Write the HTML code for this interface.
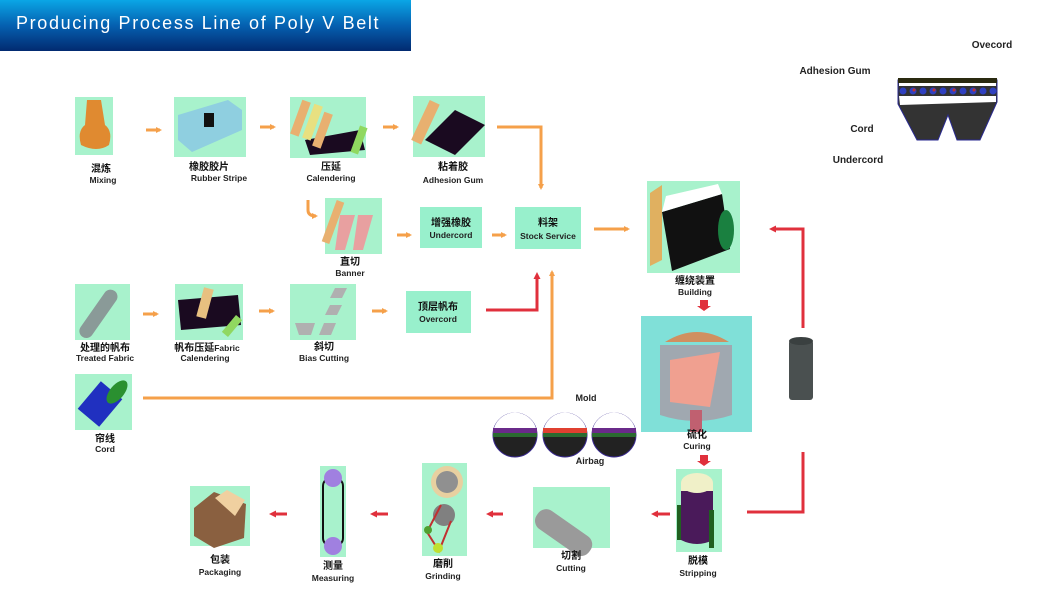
<!DOCTYPE html>
<html><head><meta charset="utf-8"><style>
html,body{margin:0;padding:0;background:#fff;}
svg{display:block;font-family:"Liberation Sans","Noto Sans CJK SC",sans-serif;}
.c{font-size:10px;font-weight:bold;fill:#111;text-anchor:middle;}
.e{font-size:8.5px;fill:#222;text-anchor:middle;font-weight:bold;}
.g{fill:#a8f2cc;}
.o{stroke:#f5a04a;stroke-width:3;fill:none;}
.r{stroke:#e0303c;stroke-width:3;fill:none;}
</style></head><body>
<svg width="1060" height="596" viewBox="0 0 1060 596" xmlns="http://www.w3.org/2000/svg">
<defs>
<linearGradient id="tb" x1="0" y1="0" x2="0" y2="1"><stop offset="0" stop-color="#0aa6e6"/><stop offset="0.5" stop-color="#0560b0"/><stop offset="1" stop-color="#022a70"/></linearGradient>
<marker id="ao" markerWidth="6" markerHeight="6" refX="4" refY="3" orient="auto" markerUnits="userSpaceOnUse"><path d="M0,0 L6,3 L0,6z" fill="#f5a04a"/></marker>
<marker id="ar" markerWidth="7" markerHeight="7" refX="4" refY="3.5" orient="auto" markerUnits="userSpaceOnUse"><path d="M0,0 L7,3.5 L0,7z" fill="#e0303c"/></marker>
</defs>
<rect x="0" y="0" width="411" height="51" fill="url(#tb)"/>
<text x="16" y="29" fill="#fff" font-size="18" letter-spacing="1.65">Producing Process Line of Poly V Belt</text>

<!-- Row 1 -->
<rect class="g" x="75" y="97" width="38" height="58"/>
<path d="M87,100 h14 l4,25 q8,6 4,20 q-12,8 -28,0 q-4,-14 4,-20z" fill="#e08a30"/>
<text class="c" x="101" y="172">混炼</text><text class="e" x="103" y="183">Mixing</text>
<line class="o" x1="146" y1="130" x2="160" y2="130" marker-end="url(#ao)"/>

<rect class="g" x="174" y="97" width="72" height="60"/>
<path d="M178,115 l50,-15 l14,10 v20 l-50,22 l-14,-12z" fill="#8fcfe0"/>
<rect x="204" y="113" width="10" height="14" fill="#111"/>
<text class="c" x="209" y="170">橡胶胶片</text><text class="e" x="219" y="181">Rubber Stripe</text>
<line class="o" x1="260" y1="127" x2="274" y2="127" marker-end="url(#ao)"/>

<rect class="g" x="290" y="97" width="76" height="61"/>
<path d="M305,140 l55,-10 l5,20 l-55,5z" fill="#1a0a20"/>
<rect x="296" y="100" width="9" height="36" fill="#e8b070" transform="rotate(20 300 118)"/>
<rect x="308" y="104" width="9" height="36" fill="#e8e080" transform="rotate(20 312 122)"/>
<rect x="318" y="112" width="9" height="36" fill="#e8b070" transform="rotate(20 322 130)"/>
<rect x="355" y="126" width="8" height="28" fill="#90d860" transform="rotate(20 359 140)"/>
<text class="c" x="331" y="170">压延</text><text class="e" x="331" y="181">Calendering</text>
<line class="o" x1="383" y1="127" x2="397" y2="127" marker-end="url(#ao)"/>

<rect class="g" x="413" y="96" width="72" height="61"/>
<path d="M425,140 l30,-30 l30,15 l-30,30z" fill="#1a0a20"/>
<rect x="420" y="100" width="11" height="44" fill="#e8b070" transform="rotate(25 425 122)"/>
<text class="c" x="453" y="170">粘着胶</text><text class="e" x="453" y="183">Adhesion Gum</text>
<polyline class="o" points="497,127 541,127 541,188" marker-end="url(#ao)"/>

<!-- Row 2 -->
<path d="M308,200 v10 q0,6 8,6" class="o" marker-end="url(#ao)"/>
<rect class="g" x="325" y="198" width="57" height="56"/>
<path d="M340,215 l15,0 l-10,35 l-10,0z M358,215 l15,0 l-10,35 l-10,0z" fill="#e8a0a0"/>
<rect x="329" y="200" width="8" height="44" fill="#e8b070" transform="rotate(20 333 222)"/>
<text class="c" x="350" y="265">直切</text><text class="e" x="350" y="276">Banner</text>
<line class="o" x1="397" y1="235" x2="410" y2="235" marker-end="url(#ao)"/>
<rect x="420" y="207" width="62" height="41" fill="#98f0cc"/>
<text class="c" x="451" y="226">增强橡胶</text><text class="e" x="451" y="238">Undercord</text>
<line class="o" x1="492" y1="235" x2="505" y2="235" marker-end="url(#ao)"/>
<rect x="515" y="207" width="66" height="42" fill="#98f0cc"/>
<text class="c" x="548" y="226">料架</text><text class="e" x="548" y="239">Stock Service</text>
<line class="o" x1="594" y1="229" x2="628" y2="229" marker-end="url(#ao)"/>

<!-- Building -->
<rect class="g" x="647" y="181" width="93" height="92"/>
<path d="M650,193 l12,-8 v75 l-12,6z" fill="#e0b060"/>
<path d="M662,212 l60,-18 l8,55 l-58,22z" fill="#111"/>
<path d="M662,212 l60,-18 l-4,-10 l-52,12z" fill="#fff"/>
<ellipse cx="726" cy="230" rx="8" ry="20" fill="#1a8040"/>
<text class="c" x="695" y="284">缠绕装置</text><text class="e" x="695" y="295">Building</text>
<path d="M700,300 h8 v6 h3 l-7,5 l-7,-5 h3z" fill="#e0303c"/>

<!-- Curing -->
<rect x="641" y="316" width="111" height="116" fill="#80e0d8"/>
<path d="M665,342 q32,-20 64,0 z" fill="#d09060"/>
<path d="M660,345 h72 v70 q-36,12 -72,0z" fill="#a0a8b0"/>
<path d="M670,360 l50,-8 l-10,55 l-40,-5z" fill="#f0a090"/>
<rect x="690" y="410" width="12" height="22" fill="#c06070"/>
<text class="c" x="697" y="438">硫化</text><text class="e" x="697" y="449">Curing</text>
<path d="M700,455 h8 v6 h3 l-7,5 l-7,-5 h3z" fill="#e0303c"/>

<!-- Stripping -->
<rect class="g" x="676" y="469" width="46" height="83"/>
<path d="M681,490 h32 v50 q-16,8 -32,0z" fill="#4a1a5a"/>
<ellipse cx="697" cy="483" rx="16" ry="10" fill="#f0f0c8"/>
<rect x="681" y="483" width="32" height="8" fill="#f0f0c8"/>
<rect x="677" y="505" width="4" height="35" fill="#206020"/>
<rect x="709" y="510" width="5" height="38" fill="#206020"/>
<text class="c" x="698" y="564">脱模</text><text class="e" x="698" y="576">Stripping</text>

<!-- Cylinder -->
<rect x="789" y="340" width="24" height="60" rx="3" fill="#4a5050"/>
<ellipse cx="801" cy="341" rx="12" ry="4" fill="#3a4040"/>
<polyline class="r" points="747,512 803,512 803,452"/>
<polyline class="r" points="803,328 803,229 772,229" marker-end="url(#ar)"/>
<line class="r" x1="670" y1="514" x2="654" y2="514" marker-end="url(#ar)"/>

<!-- Row 3 -->
<rect class="g" x="75" y="284" width="55" height="56"/>
<rect x="92" y="286" width="14" height="56" rx="7" fill="#8a9a98" transform="rotate(35 99 313)"/>
<text class="c" x="105" y="351">处理的帆布</text><text class="e" x="105" y="361">Treated Fabric</text>
<line class="o" x1="143" y1="314" x2="157" y2="314" marker-end="url(#ao)"/>
<rect class="g" x="175" y="284" width="68" height="56"/>
<path d="M178,300 l60,-5 l3,30 l-60,5z" fill="#1a0a20"/>
<rect x="200" y="288" width="10" height="30" fill="#e8c080" transform="rotate(15 205 303)"/>
<rect x="228" y="315" width="8" height="22" fill="#90d860" transform="rotate(40 232 326)"/>
<text x="207" y="351" font-size="10" font-weight="bold" fill="#111" text-anchor="middle">帆布压延<tspan font-size="8.5" fill="#222">Fabric</tspan></text>
<text class="e" x="205" y="361">Calendering</text>
<line class="o" x1="259" y1="311" x2="273" y2="311" marker-end="url(#ao)"/>
<rect class="g" x="290" y="284" width="66" height="56"/>
<path d="M335,288 h12 l-5,10 h-12z M330,305 h12 l-5,10 h-12z M324,323 h12 l-5,12 h-12z M295,323 h20 l-4,12 h-12z" fill="#b0b0b0"/>
<text class="c" x="324" y="350">斜切</text><text class="e" x="324" y="361">Bias Cutting</text>
<line class="o" x1="372" y1="311" x2="386" y2="311" marker-end="url(#ao)"/>
<rect x="406" y="291" width="65" height="42" fill="#98f0cc"/>
<text class="c" x="438" y="310">顶层帆布</text><text class="e" x="438" y="322">Overcord</text>
<polyline class="r" points="486,310 537,310 537,275" marker-end="url(#ar)"/>
<polyline class="o" points="143,398 552,398 552,272" marker-end="url(#ao)"/>

<rect class="g" x="75" y="374" width="57" height="56"/>
<rect x="86" y="386" width="28" height="36" fill="#2030c0" transform="rotate(40 100 404)"/>
<ellipse cx="117" cy="392" rx="7" ry="14" fill="#2a9030" transform="rotate(40 117 392)"/>
<text class="c" x="105" y="442">帘线</text><text class="e" x="105" y="452">Cord</text>

<!-- Mold -->
<text x="586" y="401" font-size="9" font-weight="bold" fill="#222" text-anchor="middle">Mold</text>
<g>
<circle cx="515" cy="435" r="22" fill="#222" stroke="#3a2a90" stroke-width="1"/>
<path d="M494,428 a22,22 0 0 1 42,0z" fill="#fff"/><rect x="493" y="428" width="44" height="5" fill="#6a2a8a"/><rect x="493" y="433" width="44" height="4" fill="#2a6a30"/>
<circle cx="565" cy="435" r="22" fill="#222" stroke="#3a2a90" stroke-width="1"/>
<path d="M544,428 a22,22 0 0 1 42,0z" fill="#fff"/><rect x="543" y="428" width="44" height="5" fill="#e04030"/><rect x="543" y="433" width="44" height="4" fill="#2a6a30"/>
<circle cx="614" cy="435" r="22" fill="#222" stroke="#3a2a90" stroke-width="1"/>
<path d="M593,428 a22,22 0 0 1 42,0z" fill="#fff"/><rect x="592" y="428" width="44" height="5" fill="#6a2a8a"/><rect x="592" y="433" width="44" height="4" fill="#2a6a30"/>
</g>
<text x="590" y="464" font-size="9" font-weight="bold" fill="#222" text-anchor="middle">Airbag</text>

<!-- Bottom row -->
<rect class="g" x="533" y="487" width="77" height="61"/>
<rect x="545" y="490" width="22" height="64" rx="10" fill="#9a9a9a" transform="rotate(-55 570 520)"/>
<text class="c" x="571" y="559">切割</text><text class="e" x="571" y="571">Cutting</text>
<line class="r" x1="503" y1="514" x2="489" y2="514" marker-end="url(#ar)"/>
<rect class="g" x="422" y="463" width="45" height="93"/>
<circle cx="447" cy="482" r="16" fill="#e8d0a0"/><circle cx="447" cy="482" r="11" fill="#909090"/>
<circle cx="444" cy="515" r="11" fill="#808080"/>
<path d="M441,505 l-14,27 l12,19 l12,-30" stroke="#c03030" stroke-width="2" fill="none"/>
<circle cx="438" cy="548" r="5" fill="#c0e030"/><circle cx="428" cy="530" r="4" fill="#50a030"/>
<text class="c" x="443" y="567">磨削</text><text class="e" x="443" y="579">Grinding</text>
<line class="r" x1="388" y1="514" x2="373" y2="514" marker-end="url(#ar)"/>
<rect class="g" x="320" y="466" width="26" height="91"/>
<rect x="323" y="478" width="20" height="68" rx="8" fill="none" stroke="#111" stroke-width="2"/>
<circle cx="333" cy="478" r="9" fill="#a080e0"/><circle cx="333" cy="546" r="9" fill="#a080e0"/>
<text class="c" x="333" y="569">测量</text><text class="e" x="333" y="581">Measuring</text>
<line class="r" x1="287" y1="514" x2="272" y2="514" marker-end="url(#ar)"/>
<rect class="g" x="190" y="486" width="60" height="60"/>
<path d="M194,508 l20,-16 l32,12 l-2,34 l-30,10 l-20,-12z" fill="#8a6040"/>
<path d="M215,498 l12,-8 l18,10 l-10,16z" fill="#f0d0a0"/>
<text class="c" x="220" y="563">包装</text><text class="e" x="220" y="575">Packaging</text>

<!-- Belt cross-section -->
<text x="992" y="48" font-size="10" font-weight="bold" fill="#222" text-anchor="middle">Ovecord</text>
<text x="835" y="74" font-size="10" font-weight="bold" fill="#222" text-anchor="middle">Adhesion Gum</text>
<text x="862" y="132" font-size="10" font-weight="bold" fill="#222" text-anchor="middle">Cord</text>
<text x="858" y="163" font-size="10" font-weight="bold" fill="#222" text-anchor="middle">Undercord</text>
<path d="M898,80 h99 v22 l-17,38 h-23 l-9,-25 l-10,25 h-21 l-19,-36z" fill="#333" stroke="#2a2a90" stroke-width="1"/>
<rect x="898" y="78" width="99" height="5" fill="#2a2a10"/>
<rect x="899" y="83" width="97" height="3" fill="#fff"/>
<path d="M899,96 h97 v6 l-96,3z" fill="#fff"/>
<g fill="#3040c0"><circle cx="903" cy="91" r="3.5"/><circle cx="913" cy="91" r="3.5"/><circle cx="923" cy="91" r="3.5"/><circle cx="933" cy="91" r="3.5"/><circle cx="943" cy="91" r="3.5"/><circle cx="953" cy="91" r="3.5"/><circle cx="963" cy="91" r="3.5"/><circle cx="973" cy="91" r="3.5"/><circle cx="983" cy="91" r="3.5"/><circle cx="993" cy="91" r="3.5"/></g>
<g fill="#c03030"><circle cx="914" cy="90" r="1.5"/><circle cx="934" cy="90" r="1.5"/><circle cx="954" cy="90" r="1.5"/><circle cx="974" cy="90" r="1.5"/></g>
</svg>
</body></html>
